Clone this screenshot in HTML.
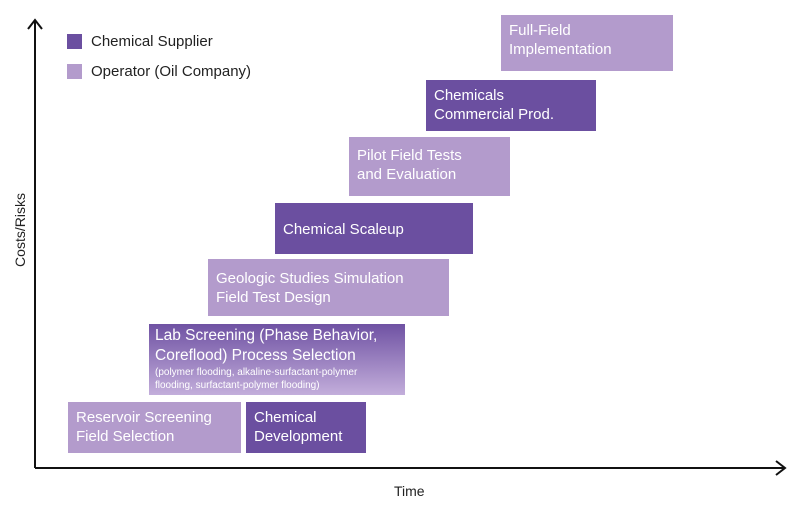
<!DOCTYPE html>
<html><head><meta charset="utf-8"><style>
body{margin:0;width:800px;height:505px;background:#fff;position:relative;overflow:hidden;font-family:"Liberation Sans",sans-serif}
.b{position:absolute;color:#fff;font-size:15px;line-height:19px;box-sizing:border-box;padding:6px 0 0 8px}
.d{background:#6b4fa0}.l{background:#b39bcc}
.t{position:absolute;font-size:15px;color:#222}
</style></head><body>
<svg width="800" height="505" style="position:absolute;left:0;top:0">
<line x1="35" y1="468" x2="35" y2="20" stroke="#111" stroke-width="2"/>
<polyline points="28,29 35,20 42,29" fill="none" stroke="#111" stroke-width="2"/>
<line x1="35" y1="468" x2="785" y2="468" stroke="#111" stroke-width="2"/>
<polyline points="776,461 785,468 776,475" fill="none" stroke="#111" stroke-width="2"/>
</svg>
<div style="position:absolute;left:67px;top:34px;width:15px;height:15px;background:#6b4fa0"></div>
<div style="position:absolute;left:67px;top:64px;width:15px;height:15px;background:#b39bcc"></div>
<div class="t" style="left:91px;top:33px">Chemical Supplier</div>
<div class="t" style="left:91px;top:63px">Operator (Oil Company)</div>
<div class="t" style="left:394px;top:483px;font-size:14px">Time</div>
<div class="t" style="left:-20px;top:222px;font-size:14px;transform:rotate(-90deg);width:80px;text-align:center">Costs/Risks</div>

<div class="b l" style="left:501px;top:15px;width:172px;height:56px">Full-Field<br>Implementation</div>
<div class="b d" style="left:426px;top:80px;width:170px;height:51px">Chemicals<br>Commercial Prod.</div>
<div class="b l" style="left:349px;top:137px;width:161px;height:59px;padding-top:9px">Pilot Field Tests<br>and Evaluation</div>
<div class="b d" style="left:275px;top:203px;width:198px;height:51px;padding-top:17px">Chemical Scaleup</div>
<div class="b l" style="left:208px;top:259px;width:241px;height:57px;padding-top:10px">Geologic Studies Simulation<br>Field Test Design</div>
<div class="b" style="left:149px;top:324px;width:256px;height:71px;padding:2px 0 0 6px;font-size:15.5px;line-height:20px;background:linear-gradient(#6f52a3,#c3aedb)">Lab Screening (Phase Behavior,<br>Coreflood) Process Selection<div style="font-size:10px;line-height:13px">(polymer flooding, alkaline-surfactant-polymer<br>flooding, surfactant-polymer flooding)</div></div>
<div class="b l" style="left:68px;top:402px;width:173px;height:51px">Reservoir Screening<br>Field Selection</div>
<div class="b d" style="left:246px;top:402px;width:120px;height:51px">Chemical<br>Development</div>
</body></html>
